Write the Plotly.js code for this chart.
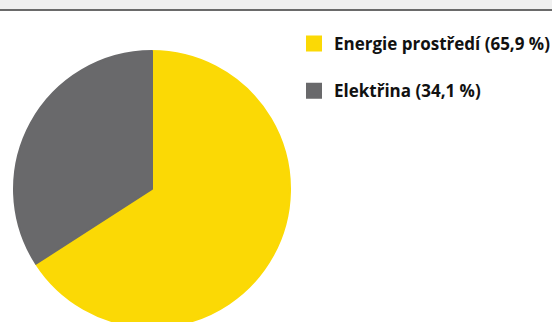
<!DOCTYPE html>
<html>
<head>
<meta charset="utf-8">
<script src="https://cdn.plot.ly/plotly-3.0.1.min.js"></script>
<style>
html, body { margin: 0; padding: 0; overflow: hidden; background: #fff; width: 552px; height: 322px; }
#chart { width: 552px; height: 340px; overflow: hidden; }
.legend .legendpie { stroke-width: 4px !important; }
</style>
</head>
<body>
<div id="chart"></div>
<script>
// Data
const categories = ["Energie prostředí", "Elektřina"];
const shares = [65.9, 34.1];
const colors = ["#FBD905", "#69696B"];

const fmt = v => v.toFixed(1).replace(".", ",");
const legendLabels = categories.map((c, i) => c + " (" + fmt(shares[i]) + " %)<br>\u00A0");

const W = 552, H = 340;

const trace = {
  type: "pie",
  labels: legendLabels,
  values: shares,
  sort: false,
  direction: "clockwise",
  rotation: 0,
  textinfo: "none",
  hoverinfo: "none",
  marker: { colors: colors, line: { color: colors, width: 2 } },
  domain: { x: [14 / W, 290 / W], y: [(H - 189 - 138) / H, (H - 189 + 138) / H] }
};

const layout = {
  width: W, height: H,
  margin: { l: 0, r: 0, t: 0, b: 0, autoexpand: false },
  paper_bgcolor: "#ffffff",
  showlegend: true,
  legend: {
    x: 294 / W, xanchor: "left",
    y: (H - 26) / H, yanchor: "top",
    valign: "top",
    font: { family: "'Open Sans', sans-serif", size: 17, color: "#111111", weight: "bold" },
    bgcolor: "rgba(0,0,0,0)"
  },
  shapes: [
    { type: "rect", xref: "paper", yref: "paper", x0: 0, x1: 1, y0: (H - 9) / H, y1: 1, fillcolor: "#F0F0F0", line: { width: 0 }, layer: "below" },
    { type: "line", xref: "paper", yref: "paper", x0: 0, x1: 1, y0: (H - 10) / H, y1: (H - 10) / H, line: { color: "#6A6A6A", width: 2 }, layer: "above" }
  ]
};

Plotly.newPlot("chart", [trace], layout, { displayModeBar: false, staticPlot: true });
</script>
</body>
</html>
